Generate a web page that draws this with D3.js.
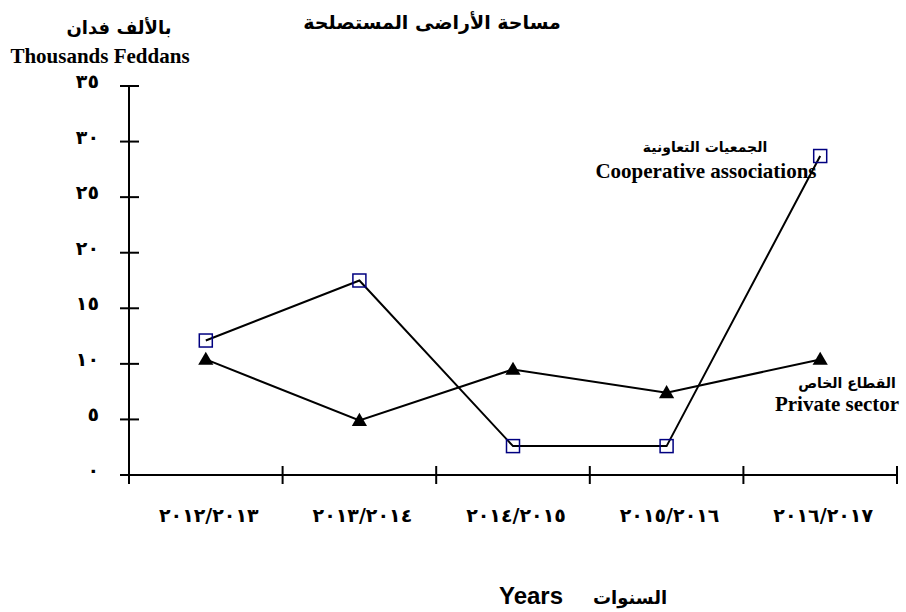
<!DOCTYPE html>
<html>
<head>
<meta charset="utf-8">
<script src="https://cdn.jsdelivr.net/npm/d3@7"></script>
<style>
body{margin:0;background:#fff}
</style>
</head>
<body>
<div id="container"></div>
<script>
var years = ["2012/2013","2013/2014","2014/2015","2015/2016","2016/2017"]
var yearLabels = ["٢٠١٢/٢٠١٣","٢٠١٣/٢٠١٤","٢٠١٤/٢٠١٥","٢٠١٥/٢٠١٦","٢٠١٦/٢٠١٧"]
var cooperative = [12.1, 17.5, 2.6, 2.6, 28.7]
var privateSector = [10.4, 4.9, 9.5, 7.4, 10.4]
var yTicks = [0,5,10,15,20,25,30,35]
var yTickLabels = ["٠","٥","١٠","١٥","٢٠","٢٥","٣٠","٣٥"]

var w = 906
var h = 612
var arabicFont = "'DejaVu Sans', sans-serif"
var serifFont = "'Liberation Serif', 'Times New Roman', serif"
var sansFont = "'Liberation Sans', Arial, sans-serif"

var svg = d3.select("#container").append("svg").attr("width",w).attr("height",h)

var xScale = d3.scaleBand().domain(years).range([129,897])
var yScale = d3.scaleLinear().domain([0,35]).range([475,86])

// axes
var axes = svg.append("g").attr("stroke","#000").attr("stroke-width",2)
axes.append("line").attr("x1",xScale.range()[0]).attr("x2",xScale.range()[0]).attr("y1",yScale(35)).attr("y2",yScale(0)+9)
axes.append("line").attr("x1",120).attr("x2",xScale.range()[1]).attr("y1",yScale(0)).attr("y2",yScale(0))

yTicks.forEach(function(d){
    axes.append("line").attr("x1",120).attr("x2",139).attr("y1",yScale(d)).attr("y2",yScale(d))
})
var xTickPos = years.map(function(d){return xScale(d)}).concat([xScale.range()[1]])
xTickPos.forEach(function(x){
    axes.append("line").attr("x1",x).attr("x2",x).attr("y1",yScale(0)-9).attr("y2",yScale(0)+9)
})

// tick labels
svg.selectAll(".ylab").data(yTicks).enter().append("text")
    .attr("class","ylab")
    .attr("x",99).attr("y",function(d){return yScale(d)+2})
    .attr("text-anchor","end")
    .attr("font-family",arabicFont).attr("font-weight","bold").attr("font-size",19)
    .attr("letter-spacing",2)
    .text(function(d,i){return yTickLabels[i]})

svg.selectAll(".xlab").data(years).enter().append("text")
    .attr("class","xlab")
    .attr("x",function(d){return xScale(d)+xScale.bandwidth()/2+3})
    .attr("y",522)
    .attr("text-anchor","middle")
    .attr("font-family",arabicFont).attr("font-weight","bold").attr("font-size",19)
    .attr("letter-spacing",3.5)
    .text(function(d,i){return yearLabels[i]})

// lines
var line = d3.line()
    .x(function(d,i){return xScale(years[i])+xScale.bandwidth()/2})
    .y(function(d){return yScale(d)})

svg.append("path").attr("d",line(privateSector)).attr("fill","none").attr("stroke","#000").attr("stroke-width",2)
svg.append("path").attr("d",line(cooperative)).attr("fill","none").attr("stroke","#000").attr("stroke-width",2)

svg.selectAll(".tri").data(privateSector).enter().append("path")
    .attr("class","tri")
    .attr("d",d3.symbol().type(d3.symbolTriangle).size(100))
    .attr("transform",function(d,i){return "translate("+(xScale(years[i])+xScale.bandwidth()/2)+","+(yScale(d)+1)+")"})
    .attr("fill","#000")

svg.selectAll(".sq").data(cooperative).enter().append("rect")
    .attr("class","sq")
    .attr("x",function(d,i){return xScale(years[i])+xScale.bandwidth()/2-6.5})
    .attr("y",function(d){return yScale(d)-6.5})
    .attr("width",13).attr("height",13)
    .attr("fill","none").attr("stroke","#000080").attr("stroke-width",1.5)

// titles
svg.append("text").attr("x",432).attr("y",29).attr("text-anchor","middle")
    .attr("font-family",arabicFont).attr("font-weight","bold").attr("font-size",19)
    .text("مساحة الأراضى المستصلحة")
svg.append("text").attr("x",119).attr("y",34).attr("text-anchor","middle")
    .attr("font-family",arabicFont).attr("font-weight","bold").attr("font-size",18)
    .text("بالألف فدان")
svg.append("text").attr("x",100).attr("y",63).attr("text-anchor","middle")
    .attr("font-family",serifFont).attr("font-weight","bold").attr("font-size",21)
    .text("Thousands Feddans")

// series labels
svg.append("text").attr("x",705).attr("y",152).attr("text-anchor","middle")
    .attr("font-family",arabicFont).attr("font-weight","bold").attr("font-size",14)
    .text("الجمعيات التعاونية")
svg.append("text").attr("x",706).attr("y",178).attr("text-anchor","middle")
    .attr("font-family",serifFont).attr("font-weight","bold").attr("font-size",21)
    .text("Cooperative associations")
svg.append("text").attr("x",847).attr("y",388).attr("text-anchor","middle")
    .attr("font-family",arabicFont).attr("font-weight","bold").attr("font-size",14)
    .text("القطاع الخاص")
svg.append("text").attr("x",837).attr("y",411).attr("text-anchor","middle")
    .attr("font-family",serifFont).attr("font-weight","bold").attr("font-size",21)
    .text("Private sector")

// x axis title
svg.append("text").attr("x",531).attr("y",604).attr("text-anchor","middle")
    .attr("font-family",sansFont).attr("font-weight","bold").attr("font-size",24)
    .text("Years")
svg.append("text").attr("x",630).attr("y",604).attr("text-anchor","middle")
    .attr("font-family",arabicFont).attr("font-weight","bold").attr("font-size",18)
    .text("السنوات")
</script>
</body>
</html>
